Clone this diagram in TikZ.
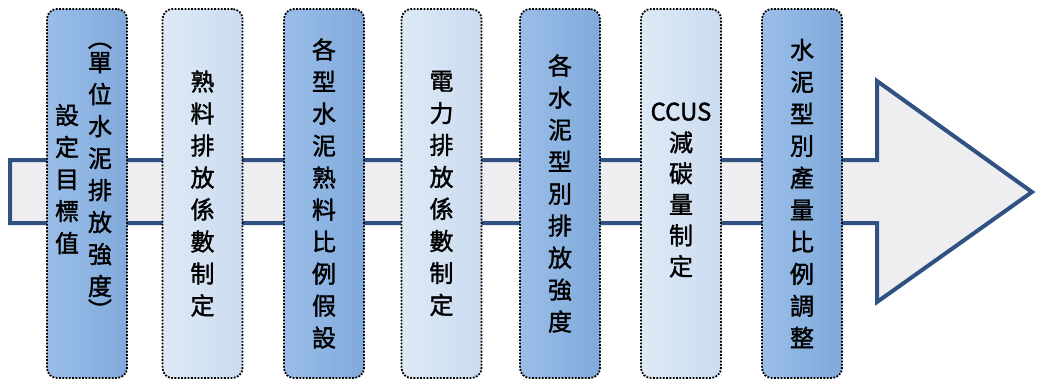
\documentclass[tikz,border=0pt]{standalone}
\usepackage{fontspec}
\newfontfamily\cjk[FakeBold=1.5]{Noto Sans CJK TC}
\definecolor{arrowline}{RGB}{47,82,130}
\definecolor{arrowfill}{RGB}{238,238,240}
\definecolor{darkboxL}{RGB}{154,190,232}
\definecolor{darkboxR}{RGB}{128,170,220}
\definecolor{lightboxL}{RGB}{222,233,246}
\definecolor{lightboxR}{RGB}{202,220,240}
\tikzset{
  boxtext/.style={font=\cjk\fontsize{24}{32}\selectfont, align=center, inner sep=0pt},
  stepbox/.style={boxtext, draw=black, line width=1.8pt, dash pattern=on 1.8pt off 1.5pt,
    rounded corners=10pt, minimum width=80pt, minimum height=369pt},
  darkbox/.style={stepbox, left color=darkboxL, right color=darkboxR},
  lightbox/.style={stepbox, left color=lightboxL, right color=lightboxR},
  bigarrow/.style={draw=arrowline, fill=arrowfill, line width=4pt, line join=miter}
}
\begin{document}
\begin{tikzpicture}[x=1pt,y=-1pt]
\useasboundingbox (0,0) rectangle (1039,381);
% big arrow
\coordinate (a1) at (10,160);
\coordinate (a2) at (877,160);
\coordinate (a3) at (877,81);
\coordinate (tip) at (1032,192);
\coordinate (a5) at (877,302);
\coordinate (a6) at (877,223);
\coordinate (a7) at (10,223);
\draw[bigarrow] (a1) -- (a2) -- (a3) -- (tip) -- (a5) -- (a6) -- (a7) -- cycle;
% boxes
\node[darkbox] (b1) at (87,193.5) {};
\node[boxtext] (b1r) at (100,181)
  {︵\\[-8pt]單\\位\\水\\泥\\排\\放\\強\\度\\[-8pt]︶};
\node[boxtext] (b1l) at (67,179)
  {設\\定\\目\\標\\值};
\node[lightbox] (b2) at (202.5,193.5) {熟\\料\\排\\放\\係\\數\\制\\定};
\node[darkbox] (b3) at (324,193.5) {各\\型\\水\\泥\\熟\\料\\比\\例\\假\\設};
\node[lightbox] (b4) at (441.5,193.5) {電\\力\\排\\放\\係\\數\\制\\定};
\node[darkbox] (b5) at (560,193.5) {各\\水\\泥\\型\\別\\排\\放\\強\\度};
\node[lightbox] (b6) at (681,193.5) {};
\node[boxtext, font=\cjk\fontsize{24}{31}\selectfont] (b6t) at (681,190)
  {CCUS\\減\\碳\\量\\制\\定};
\node[darkbox] (b7) at (802,193.5) {水\\泥\\型\\別\\產\\量\\比\\例\\調\\整};
\end{tikzpicture}
\end{document}
